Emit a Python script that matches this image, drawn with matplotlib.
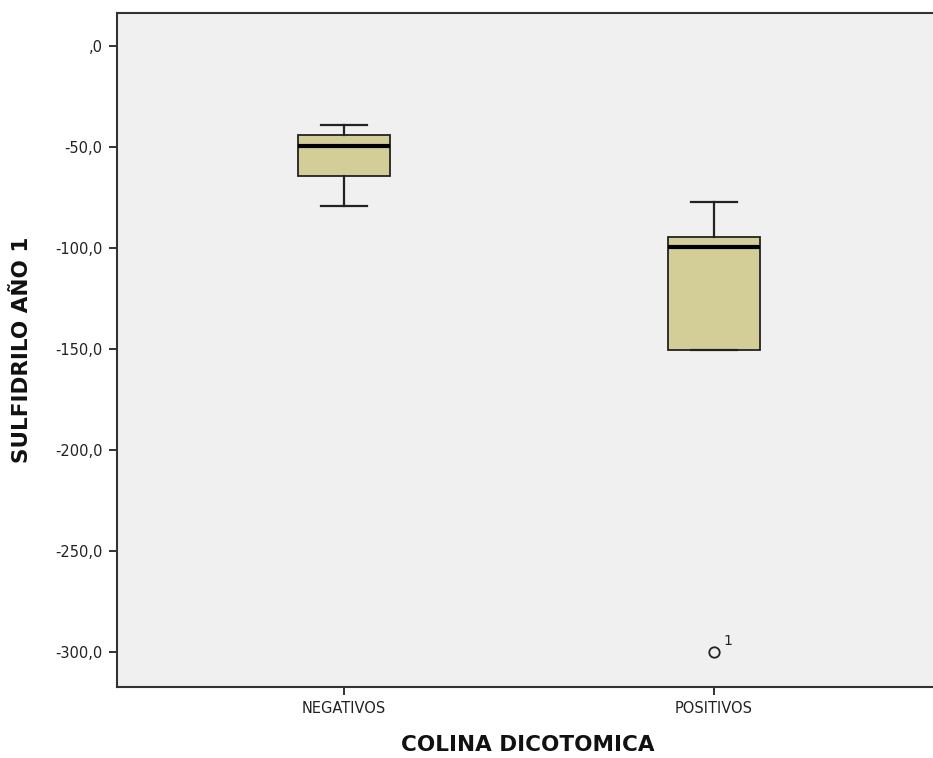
import matplotlib
matplotlib.use("Agg")
import matplotlib.pyplot as plt

categories = ["NEGATIVOS", "POSITIVOS"]
whislo = [-79.4, -150.5]
q1 = [-64.2, -150.5]
med = [-49.4, -99.4]
q3 = [-44.1, -94.4]
whishi = [-39.3, -77.4]
outliers = [[], [-299.8]]
outlier_labels = [[], ["1"]]
yticks = [0, -50, -100, -150, -200, -250, -300]
ytick_labels = [",0", "-50,0", "-100,0", "-150,0", "-200,0", "-250,0", "-300,0"]

plt.rcParams['font.family'] = ['DejaVu Sans']

W, H = 933, 758
fig = plt.figure(figsize=(W/100, H/100), dpi=100)
left_px, top_px, bottom_px = 116.5, 12.5, 687
ax = fig.add_axes([left_px/W, 1-bottom_px/H, (W-left_px)/W, (bottom_px-top_px)/H])
ax.set_facecolor("#F0F0F0")

stats = []
for i, c in enumerate(categories):
    stats.append(dict(label=c, whislo=whislo[i], q1=q1[i], med=med[i], q3=q3[i],
                      whishi=whishi[i], fliers=outliers[i]))

positions = [1, 2]
ax.bxp(stats, positions=positions, widths=0.25, patch_artist=True,
       boxprops=dict(facecolor="#D3CE98", edgecolor="#222222", linewidth=1.3),
       medianprops=dict(color="black", linewidth=3),
       whiskerprops=dict(color="#222222", linewidth=1.6),
       capprops=dict(color="#222222", linewidth=1.6),
       capwidths=0.125,
       flierprops=dict(marker="o", markerfacecolor="none", markeredgecolor="#222222",
                       markersize=7.5, markeredgewidth=1.3))

for i, pos in enumerate(positions):
    for v, lab in zip(outliers[i], outlier_labels[i]):
        ax.annotate(lab, (pos, v), xytext=(7, 5), textcoords="offset points",
                    fontsize=10, color="#222222")

px_per_unit = 370.0
xl = 1 - (344 - left_px) / px_per_unit
ax.set_xlim(xl, xl + (W - left_px) / px_per_unit)
ax.set_ylim(-317.3, 16.6)
ax.set_yticks(yticks)
ax.set_yticklabels(ytick_labels)
ax.set_xticks(positions)
ax.set_xticklabels(categories)
ax.tick_params(axis="both", direction="out", length=6, width=1.3, labelsize=10.5,
               colors="#222222", pad=4)
for s in ["left", "bottom", "top"]:
    ax.spines[s].set_color("#333333")
    ax.spines[s].set_linewidth(1.5)
ax.spines["right"].set_visible(False)

fig.text(528/W, 1-745/H, "COLINA DICOTOMICA", fontsize=15.5, fontweight="bold",
         ha="center", va="center", color="#111111")
fig.text(22/W, 1-350/H, "SULFIDRILO AÑO 1", fontsize=15.5, fontweight="bold",
         ha="center", va="center", rotation=90, color="#111111")

fig.savefig("out.png", dpi=100, facecolor="white")
